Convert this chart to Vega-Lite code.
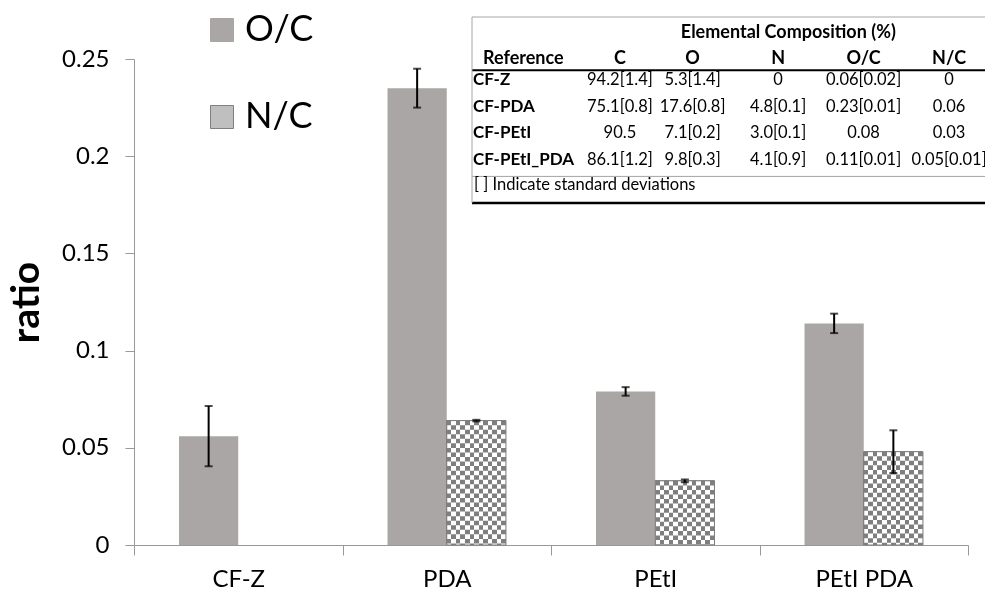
{
  "$schema": "https://vega.github.io/schema/vega-lite/v6.json",
  "width": 834,
  "height": 486,
  "autosize": {"type": "none"},
  "padding": {"left": 134, "top": 59, "right": 17, "bottom": 46},
  "background": "#ffffff",
  "config": {"font": "Lato", "view": {"stroke": null}},
  "datasets": {
    "bars": [
      {"cat": "CF-Z", "series": "O/C", "value": 0.056, "lo": 0.0405, "hi": 0.0715},
      {"cat": "CF-Z", "series": "N/C", "value": 0, "lo": null, "hi": null},
      {"cat": "PDA", "series": "O/C", "value": 0.235, "lo": 0.225, "hi": 0.245},
      {"cat": "PDA", "series": "N/C", "value": 0.064, "lo": 0.0636, "hi": 0.0644},
      {"cat": "PEtI", "series": "O/C", "value": 0.079, "lo": 0.0768, "hi": 0.0812},
      {"cat": "PEtI", "series": "N/C", "value": 0.033, "lo": 0.0323, "hi": 0.0337},
      {"cat": "PEtI PDA", "series": "O/C", "value": 0.114, "lo": 0.109, "hi": 0.119},
      {"cat": "PEtI PDA", "series": "N/C", "value": 0.048, "lo": 0.037, "hi": 0.059}
    ],
    "table": [
      {"row": "title", "col": "N", "kind": "title", "text": "Elemental Composition (%)"},
      {"row": "header", "col": "Reference", "kind": "refhead", "text": "Reference"},
      {"row": "header", "col": "C", "kind": "colhead", "text": "C"},
      {"row": "header", "col": "O", "kind": "colhead", "text": "O"},
      {"row": "header", "col": "N", "kind": "colhead", "text": "N"},
      {"row": "header", "col": "O/C", "kind": "colhead", "text": "O/C"},
      {"row": "header", "col": "N/C", "kind": "colhead", "text": "N/C"},
      {"row": "CF-Z", "col": "Reference", "kind": "rowlabel", "text": "CF-Z"},
      {"row": "CF-Z", "col": "C", "kind": "val", "text": "94.2[1.4]"},
      {"row": "CF-Z", "col": "O", "kind": "val", "text": "5.3[1.4]"},
      {"row": "CF-Z", "col": "N", "kind": "val", "text": "0"},
      {"row": "CF-Z", "col": "O/C", "kind": "val", "text": "0.06[0.02]"},
      {"row": "CF-Z", "col": "N/C", "kind": "val", "text": "0"},
      {"row": "CF-PDA", "col": "Reference", "kind": "rowlabel", "text": "CF-PDA"},
      {"row": "CF-PDA", "col": "C", "kind": "val", "text": "75.1[0.8]"},
      {"row": "CF-PDA", "col": "O", "kind": "val", "text": "17.6[0.8]"},
      {"row": "CF-PDA", "col": "N", "kind": "val", "text": "4.8[0.1]"},
      {"row": "CF-PDA", "col": "O/C", "kind": "val", "text": "0.23[0.01]"},
      {"row": "CF-PDA", "col": "N/C", "kind": "val", "text": "0.06"},
      {"row": "CF-PEtI", "col": "Reference", "kind": "rowlabel", "text": "CF-PEtI"},
      {"row": "CF-PEtI", "col": "C", "kind": "val", "text": "90.5"},
      {"row": "CF-PEtI", "col": "O", "kind": "val", "text": "7.1[0.2]"},
      {"row": "CF-PEtI", "col": "N", "kind": "val", "text": "3.0[0.1]"},
      {"row": "CF-PEtI", "col": "O/C", "kind": "val", "text": "0.08"},
      {"row": "CF-PEtI", "col": "N/C", "kind": "val", "text": "0.03"},
      {"row": "CF-PEtI_PDA", "col": "Reference", "kind": "rowlabel", "text": "CF-PEtI_PDA"},
      {"row": "CF-PEtI_PDA", "col": "C", "kind": "val", "text": "86.1[1.2]"},
      {"row": "CF-PEtI_PDA", "col": "O", "kind": "val", "text": "9.8[0.3]"},
      {"row": "CF-PEtI_PDA", "col": "N", "kind": "val", "text": "4.1[0.9]"},
      {"row": "CF-PEtI_PDA", "col": "O/C", "kind": "val", "text": "0.11[0.01]"},
      {"row": "CF-PEtI_PDA", "col": "N/C", "kind": "val", "text": "0.05[0.01]"},
      {"row": "footer", "col": "Reference", "kind": "footer", "text": "[ ] Indicate standard deviations"}
    ]
  },
  "layer": [
    {
      "data": {"name": "bars"},
      "encoding": {
        "x": {
          "field": "cat", "type": "nominal",
          "sort": ["CF-Z", "PDA", "PEtI", "PEtI PDA"],
          "scale": {"paddingInner": 0, "paddingOuter": 0},
          "axis": {
            "title": null, "labelAngle": 0, "labelFontSize": 24, "labelColor": "#000000",
            "labelPadding": 12, "tickBand": "extent", "tickSize": 10, "tickColor": "#999999",
            "domainColor": "#999999", "grid": false
          }
        },
        "xOffset": {
          "field": "series", "type": "nominal",
          "scale": {"domain": ["O/C", "N/C"], "paddingInner": 0, "paddingOuter": 0.76}
        },
        "y": {
          "field": "value", "type": "quantitative",
          "scale": {"domain": [0, 0.25], "nice": false, "zero": true},
          "axis": {
            "title": "ratio", "titleFontSize": 39, "titleFontWeight": "bold", "titleColor": "#000000",
            "titlePadding": 15, "labelFontSize": 24, "labelColor": "#000000", "labelPadding": 16,
            "tickSize": 9, "tickColor": "#999999", "domainColor": "#999999",
            "values": [0, 0.05, 0.1, 0.15, 0.2, 0.25], "format": "~g", "grid": false
          }
        }
      },
      "layer": [
        {
          "transform": [{"filter": "datum.series === 'O/C'"}],
          "mark": {"type": "bar"},
          "encoding": {
            "color": {
              "field": "series", "type": "nominal",
              "scale": {"domain": ["O/C", "N/C"], "range": ["#aaa6a5", "#bfbfbf"]},
              "legend": {
                "orient": "none", "legendX": 70, "legendY": -47, "title": null,
                "symbolType": "square", "symbolSize": 529, "labelFontSize": 36,
                "labelColor": "#000000", "labelOffset": 5, "rowPadding": 51, "padding": 0,
                "symbolStrokeWidth": 0,
                "encode": {
                  "symbols": {
                    "update": {
                      "fill": {"signal": "datum.value === 'N/C' ? {gradient: 'linear', x1: 0, y1: 0, x2: 1, y2: 0, stops: [{offset: 0, color: '#808080'}, {offset: 0.2, color: '#808080'}, {offset: 0.2, color: '#ffffff'}, {offset: 0.4, color: '#ffffff'}, {offset: 0.4, color: '#808080'}, {offset: 0.6, color: '#808080'}, {offset: 0.6, color: '#ffffff'}, {offset: 0.8, color: '#ffffff'}, {offset: 0.8, color: '#808080'}, {offset: 1, color: '#808080'}]} : '#aaa6a5'"},
                      "stroke": {"signal": "datum.value === 'N/C' ? '#7f7f7f' : '#aaa6a5'"},
                      "strokeWidth": {"value": 1}
                    }
                  }
                }
              }
            }
          }
        },
        {
          "transform": [{"filter": "datum.series === 'N/C'"}],
          "mark": {
            "type": "bar",
            "fill": {
              "gradient": "linear", "x1": 0, "y1": 0, "x2": 1, "y2": 0,
              "stops": [
                {"offset": 0, "color": "#000000"}, {"offset": 0.0769, "color": "#000000"},
                {"offset": 0.0769, "color": "#808080"}, {"offset": 0.1538, "color": "#808080"},
                {"offset": 0.1538, "color": "#000000"}, {"offset": 0.2308, "color": "#000000"},
                {"offset": 0.2308, "color": "#808080"}, {"offset": 0.3077, "color": "#808080"},
                {"offset": 0.3077, "color": "#000000"}, {"offset": 0.3846, "color": "#000000"},
                {"offset": 0.3846, "color": "#808080"}, {"offset": 0.4615, "color": "#808080"},
                {"offset": 0.4615, "color": "#000000"}, {"offset": 0.5385, "color": "#000000"},
                {"offset": 0.5385, "color": "#808080"}, {"offset": 0.6154, "color": "#808080"},
                {"offset": 0.6154, "color": "#000000"}, {"offset": 0.6923, "color": "#000000"},
                {"offset": 0.6923, "color": "#808080"}, {"offset": 0.7692, "color": "#808080"},
                {"offset": 0.7692, "color": "#000000"}, {"offset": 0.8462, "color": "#000000"},
                {"offset": 0.8462, "color": "#808080"}, {"offset": 0.9231, "color": "#808080"},
                {"offset": 0.9231, "color": "#000000"}, {"offset": 1, "color": "#000000"}
              ]
            }
          }
        },
        {
          "transform": [{"filter": "datum.series === 'N/C' && datum.value > 0"}],
          "mark": {"type": "rule", "strokeWidth": 59.2, "strokeDash": [4.55, 4.55], "color": "#808080", "blend": "difference", "strokeCap": "butt"},
          "encoding": {"y2": {"datum": 0}}
        },
        {
          "transform": [{"filter": "datum.series === 'N/C'"}],
          "mark": {"type": "bar", "color": "#ffffff", "blend": "difference"}
        },
        {
          "transform": [{"filter": "datum.series === 'N/C' && datum.value > 0"}],
          "mark": {"type": "bar", "filled": false, "color": "#7f7f7f", "strokeWidth": 1}
        },
        {
          "transform": [{"filter": "isValid(datum.lo)"}],
          "mark": {"type": "rule", "color": "#000000", "strokeWidth": 2},
          "encoding": {"y": {"field": "lo", "type": "quantitative"}, "y2": {"field": "hi"}}
        },
        {
          "transform": [{"filter": "isValid(datum.lo)"}],
          "mark": {"type": "tick", "color": "#000000", "size": 8, "thickness": 2, "orient": "horizontal"},
          "encoding": {"y": {"field": "lo", "type": "quantitative"}}
        },
        {
          "transform": [{"filter": "isValid(datum.hi)"}],
          "mark": {"type": "tick", "color": "#000000", "size": 8, "thickness": 2, "orient": "horizontal"},
          "encoding": {"y": {"field": "hi", "type": "quantitative"}}
        }
      ]
    },
    {
      "data": {"name": "table"},
      "layer": [
        {
          "data": {"values": [{}]},
          "mark": {"type": "rule", "color": "#a6a6a6", "strokeWidth": 1},
          "encoding": {
            "x": {"datum": "Reference", "type": "nominal", "bandPosition": 0,
              "scale": {"type": "band", "domain": ["Reference", "C", "O", "N", "O/C", "N/C"], "range": [338, 851], "paddingInner": 0, "paddingOuter": 0}, "axis": null},
            "x2": {"datum": "N/C", "bandPosition": 1},
            "y": {"datum": "title", "type": "nominal", "bandPosition": 0,
              "scale": {"type": "band", "domain": ["title", "header", "CF-Z", "CF-PDA", "CF-PEtI", "CF-PEtI_PDA", "footer"], "range": [-42, 144], "paddingInner": 0, "paddingOuter": 0}, "axis": null}
          }
        },
        {
          "data": {"values": [{}]},
          "mark": {"type": "rule", "color": "#000000", "strokeWidth": 2},
          "encoding": {
            "x": {"datum": "Reference", "type": "nominal", "bandPosition": 0, "axis": null},
            "x2": {"datum": "N/C", "bandPosition": 1},
            "y": {"datum": "header", "type": "nominal", "bandPosition": 1, "axis": null}
          }
        },
        {
          "data": {"values": [{}]},
          "mark": {"type": "rule", "color": "#a6a6a6", "strokeWidth": 1},
          "encoding": {
            "x": {"datum": "Reference", "type": "nominal", "bandPosition": 0, "axis": null},
            "x2": {"datum": "N/C", "bandPosition": 1},
            "y": {"datum": "footer", "type": "nominal", "bandPosition": 0, "axis": null}
          }
        },
        {
          "data": {"values": [{}]},
          "mark": {"type": "rule", "color": "#000000", "strokeWidth": 2.5},
          "encoding": {
            "x": {"datum": "Reference", "type": "nominal", "bandPosition": 0, "axis": null},
            "x2": {"datum": "N/C", "bandPosition": 1},
            "y": {"datum": "footer", "type": "nominal", "bandPosition": 1, "axis": null}
          }
        },
        {
          "data": {"values": [{}]},
          "mark": {"type": "rule", "color": "#a6a6a6", "strokeWidth": 1},
          "encoding": {
            "x": {"datum": "Reference", "type": "nominal", "bandPosition": 0, "axis": null},
            "y": {"datum": "title", "type": "nominal", "bandPosition": 0, "axis": null},
            "y2": {"datum": "footer", "bandPosition": 1}
          }
        },
        {
          "transform": [{"filter": "datum.kind === 'title'"}],
          "mark": {"type": "text", "fontSize": 18, "fontWeight": "bold", "align": "center", "baseline": "middle", "color": "#000000"},
          "encoding": {
            "x": {"field": "col", "type": "nominal", "bandPosition": 0.7, "axis": null},
            "y": {"field": "row", "type": "nominal", "bandPosition": 0.59, "axis": null},
            "text": {"field": "text"}
          }
        },
        {
          "transform": [{"filter": "datum.kind === 'refhead'"}],
          "mark": {"type": "text", "fontSize": 18, "fontWeight": "bold", "align": "left", "baseline": "middle", "dx": 11, "color": "#000000"},
          "encoding": {
            "x": {"field": "col", "type": "nominal", "bandPosition": 0, "axis": null},
            "y": {"field": "row", "type": "nominal", "bandPosition": 0.59, "axis": null},
            "text": {"field": "text"}
          }
        },
        {
          "transform": [{"filter": "datum.kind === 'colhead' && datum.col === 'C'"}],
          "mark": {"type": "text", "fontSize": 18, "fontWeight": "bold", "align": "center", "baseline": "middle", "color": "#000000"},
          "encoding": {
            "x": {"field": "col", "type": "nominal", "bandPosition": 0.73, "axis": null},
            "y": {"field": "row", "type": "nominal", "bandPosition": 0.59, "axis": null},
            "text": {"field": "text"}
          }
        },
        {
          "transform": [{"filter": "datum.kind === 'colhead' && datum.col !== 'C'"}],
          "mark": {"type": "text", "fontSize": 18, "fontWeight": "bold", "align": "center", "baseline": "middle", "color": "#000000"},
          "encoding": {
            "x": {"field": "col", "type": "nominal", "bandPosition": 0.58, "axis": null},
            "y": {"field": "row", "type": "nominal", "bandPosition": 0.59, "axis": null},
            "text": {"field": "text"}
          }
        },
        {
          "transform": [{"filter": "datum.kind === 'rowlabel'"}],
          "mark": {"type": "text", "fontSize": 17, "fontWeight": "bold", "align": "left", "baseline": "middle", "dx": 1, "color": "#000000"},
          "encoding": {
            "x": {"field": "col", "type": "nominal", "bandPosition": 0, "axis": null},
            "y": {"field": "row", "type": "nominal", "bandPosition": 0.38, "axis": null},
            "text": {"field": "text"}
          }
        },
        {
          "transform": [{"filter": "datum.kind === 'val' && datum.col === 'C'"}],
          "mark": {"type": "text", "fontSize": 16.5, "align": "center", "baseline": "middle", "color": "#000000"},
          "encoding": {
            "x": {"field": "col", "type": "nominal", "bandPosition": 0.73, "axis": null},
            "y": {"field": "row", "type": "nominal", "bandPosition": 0.38, "axis": null},
            "text": {"field": "text"}
          }
        },
        {
          "transform": [{"filter": "datum.kind === 'val' && datum.col !== 'C'"}],
          "mark": {"type": "text", "fontSize": 16.5, "align": "center", "baseline": "middle", "color": "#000000"},
          "encoding": {
            "x": {"field": "col", "type": "nominal", "bandPosition": 0.58, "axis": null},
            "y": {"field": "row", "type": "nominal", "bandPosition": 0.38, "axis": null},
            "text": {"field": "text"}
          }
        },
        {
          "transform": [{"filter": "datum.kind === 'footer'"}],
          "mark": {"type": "text", "fontSize": 16.5, "align": "left", "baseline": "middle", "dx": 2, "color": "#000000"},
          "encoding": {
            "x": {"field": "col", "type": "nominal", "bandPosition": 0, "axis": null},
            "y": {"field": "row", "type": "nominal", "bandPosition": 0.34, "axis": null},
            "text": {"field": "text"}
          }
        }
      ]
    }
  ],
  "resolve": {"scale": {"x": "independent", "y": "independent"}, "axis": {"x": "independent", "y": "independent"}}
}
